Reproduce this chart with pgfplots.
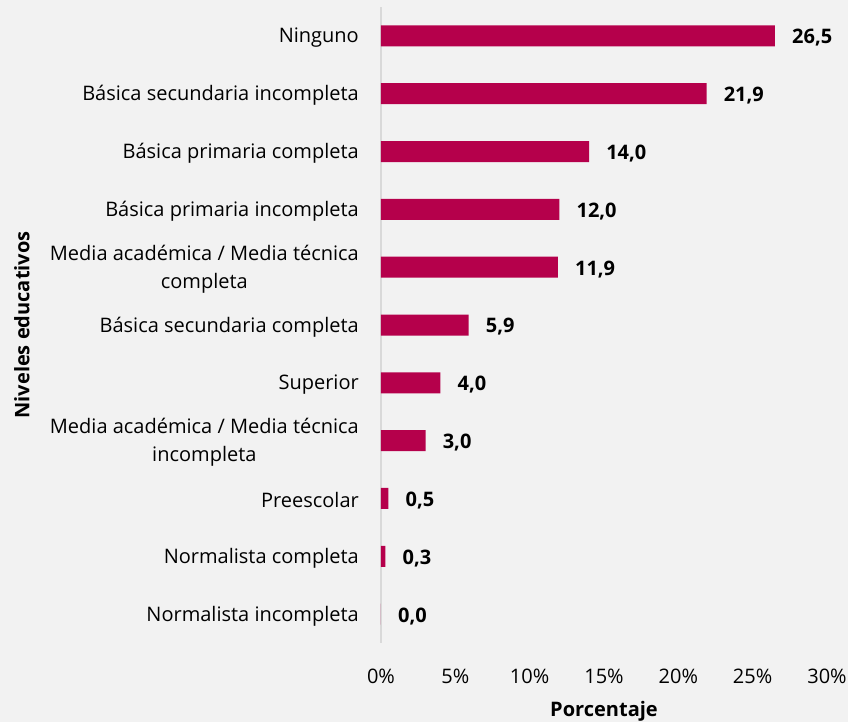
\documentclass[border=0pt]{standalone}
\usepackage{pgfplots}
\pgfplotsset{compat=1.18}
\usepackage{fontspec}
\setmainfont{Open Sans}
\definecolor{barc}{HTML}{B5004B}
\definecolor{bgc}{HTML}{F2F2F2}
\definecolor{axc}{HTML}{D9D9D9}
\newcommand{\bigf}{\fontsize{20bp}{28bp}\selectfont}
\begin{document}
\begin{tikzpicture}[font=\bigf]
\fill[bgc] (-381bp,-79bp) rectangle (467bp,643bp);
\begin{axis}[
  scale only axis, width=446bp, height=636bp,
  xbar, bar width=21bp,
  xmin=0, xmax=30, ymin=-0.5, ymax=10.5, y dir=reverse,
  /pgf/number format/assume math mode=true,
  xtick={0,5,...,30},
  xticklabel={\pgfmathprintnumber{\tick}\%},
  xticklabel style={font=\bigf, anchor=base, inner sep=0pt, yshift=-40bp},
  ytick={0,...,10},
  yticklabels={Ninguno, Básica secundaria incompleta, Básica primaria completa, Básica primaria incompleta, {Media académica / Media técnica\\completa}, Básica secundaria completa, Superior, {Media académica / Media técnica\\incompleta}, Preescolar, Normalista completa, Normalista incompleta},
  yticklabel style={font=\bigf, align=center, anchor=east, inner sep=0pt, xshift=-22bp, yshift=-2bp},
  major tick length=0pt,
  axis lines=left,
  x axis line style={draw=none},
  y axis line style={draw=axc, line width=1.2bp, -},
  xlabel={Porcentaje},
  xlabel style={font=\bigf\bfseries, at={(axis description cs:0.5,-0.1148)}, anchor=base},
  ylabel={Niveles educativos},
  ylabel style={font=\bigf\bfseries, at={(axis description cs:-0.805,0.5)}, anchor=center},
  nodes near coords={\pgfmathprintnumber[fixed,fixed zerofill,precision=1,use comma]{\pgfplotspointmeta}},
  every node near coord/.append style={font=\bigf\bfseries, anchor=west, inner sep=0pt, xshift=17bp, yshift=-2bp, black},
]
\addplot[fill=barc, draw=none] coordinates {(26.5,0) (21.9,1) (14.0,2) (12.0,3) (11.9,4) (5.9,5) (4.0,6) (3.0,7) (0.5,8) (0.3,9) (0.0,10)};
\end{axis}
\pgfresetboundingbox
\path[use as bounding box] (-381bp,-79bp) rectangle (467bp,643bp);
\end{tikzpicture}
\end{document}
